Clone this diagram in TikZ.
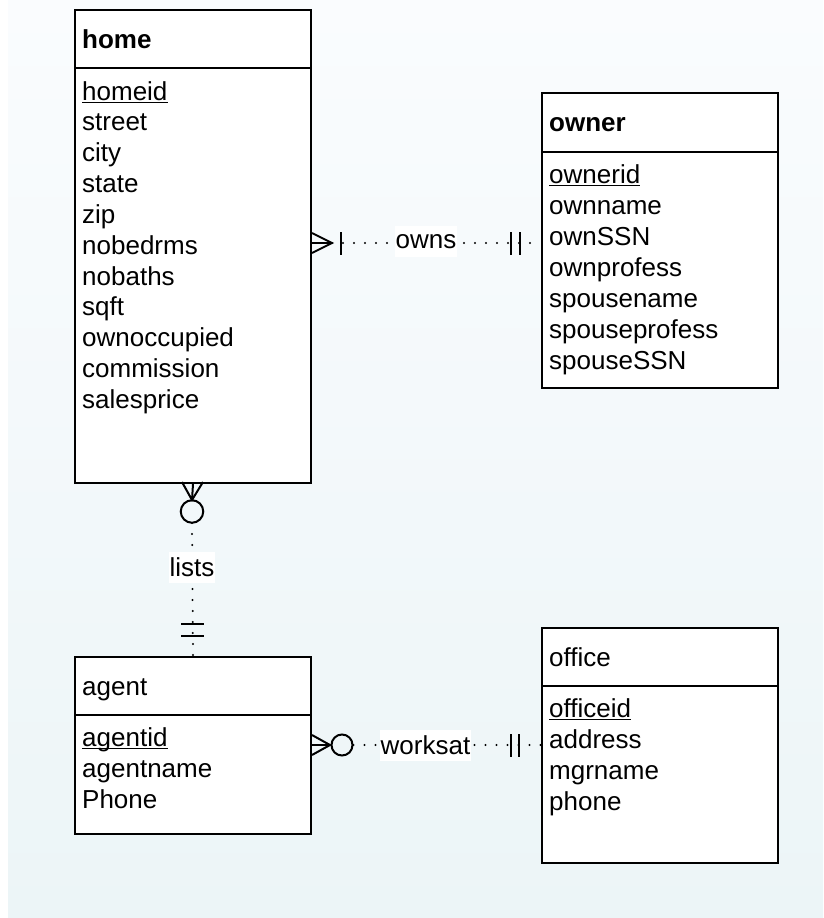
\documentclass[tikz,border=0pt]{standalone}
\usepackage{fontspec}
\setmainfont{Liberation Sans}
\usetikzlibrary{calc}
\definecolor{bgtop}{RGB}{250,252,254}
\definecolor{bgbot}{RGB}{236,245,247}
\begin{document}
\begin{tikzpicture}[x=1pt,y=-1pt,
  ent/.style={draw=black, line width=2pt, fill=white, inner sep=0pt, anchor=north west},
  sep/.style={draw=black, line width=2pt},
  hdr/.style={anchor=base west, inner sep=0pt, font=\fontsize{26}{31}\selectfont},
  attr/.style={anchor=base west, inner sep=0pt, font=\fontsize{26}{31}\selectfont},
  ulin/.style={line width=1.6pt},
  rel/.style={draw=black, line width=2pt},
  dotline/.style={draw=black, line width=2.2pt, line cap=round, dash pattern=on 0pt off 11pt},
  lbl/.style={fill=white, inner sep=1pt, minimum height=31pt, font=\fontsize{26}{31}\selectfont}
]
\useasboundingbox (0,0) rectangle (823,918);
\shade[top color=bgtop, bottom color=bgbot] (8,0) rectangle (823,918);

% ---------- home ----------
\node[ent, minimum width=236pt, minimum height=473pt] (home) at (74,9) {};
\draw[sep] (home.west |- 0,68) -- (home.east |- 0,68);
\node[hdr] (home-h) at (82,48) {\bfseries home};
\node[attr] (home-a0) at (82,100) {homeid};
\draw[ulin] ([yshift=-2.5pt]home-a0.base west) -- ([yshift=-2.5pt]home-a0.base east);
\foreach \t [count=\i] in {street,city,state,zip,nobedrms,nobaths,sqft,ownoccupied,commission,salesprice}
  \node[attr] (home-a\i) at (82,{100+30.85*\i}) {\t};

% ---------- owner ----------
\node[ent, minimum width=236pt, minimum height=295pt] (owner) at (541,92) {};
\draw[sep] (owner.west |- 0,152) -- (owner.east |- 0,152);
\node[hdr] (owner-h) at (549,131.5) {\bfseries owner};
\node[attr] (owner-a0) at (549,183) {ownerid};
\draw[ulin] ([yshift=-2.5pt]owner-a0.base west) -- ([yshift=-2.5pt]owner-a0.base east);
\foreach \t [count=\i] in {ownname,ownSSN,ownprofess,spousename,spouseprofess,spouseSSN}
  \node[attr] (owner-a\i) at (549,{183+31*\i}) {\t};

% ---------- agent ----------
\node[ent, minimum width=236pt, minimum height=177pt] (agent) at (74,656) {};
\draw[sep] (agent.west |- 0,715) -- (agent.east |- 0,715);
\node[hdr] (agent-h) at (82,695) {agent};
\node[attr] (agent-a0) at (82,746) {agentid};
\draw[ulin] ([yshift=-2.5pt]agent-a0.base west) -- ([yshift=-2.5pt]agent-a0.base east);
\foreach \t [count=\i] in {agentname,Phone}
  \node[attr] (agent-a\i) at (82,{746+31*\i}) {\t};

% ---------- office ----------
\node[ent, minimum width=236pt, minimum height=235pt] (office) at (541,627) {};
\draw[sep] (office.west |- 0,686) -- (office.east |- 0,686);
\node[hdr] (office-h) at (549,666) {office};
\node[attr] (office-a0) at (549,717) {officeid};
\draw[ulin] ([yshift=-2.5pt]office-a0.base west) -- ([yshift=-2.5pt]office-a0.base east);
\foreach \t [count=\i] in {address,mgrname,phone}
  \node[attr] (office-a\i) at (549,{717+31*\i}) {\t};

% ---------- owns ----------
\coordinate (owns-tip) at (332,243);
\draw[dotline] (owns-tip) -- (owner.west |- 0,243);
\draw[rel] (home.east |- 0,233) -- (owns-tip) -- (home.east |- 0,253);
\draw[rel] (home.east |- 0,243) -- (owns-tip);
\draw[rel] (341,232) -- (341,255);
\draw[rel] (511,232) -- (511,255);
\draw[rel] (520,232) -- (520,255);
\node[lbl] (owns) at (426,241.5) {owns};

% ---------- lists ----------
\coordinate (lists-tip) at (192,500);
\draw[dotline] (192,523) -- (agent.north);
\draw[rel] (182,482) -- (lists-tip) -- (203,482);
\draw[rel] (home.south) -- (lists-tip);
\node[draw=black, line width=2pt, circle, minimum size=22.5pt, inner sep=0pt, fill=none] (lists-c) at (192,511.5) {};
\draw[rel] (181,624) -- (204,624);
\draw[rel] (181,636) -- (204,636);
\node[lbl] (lists) at (192,567) {lists};

% ---------- worksat ----------
\coordinate (works-tip) at (330,745);
\node[draw=black, line width=2pt, circle, minimum size=21pt, inner sep=0pt] (works-c) at (342,745) {};
\draw[dotline] (works-c.east) -- (office.west |- 0,745);
\draw[rel] (agent.east |- 0,735) -- (works-tip) -- (agent.east |- 0,755);
\draw[rel] (agent.east |- 0,745) -- (works-tip);
\draw[rel] (511,734) -- (511,757);
\draw[rel] (519,734) -- (519,757);
\node[lbl] (worksat) at (425.5,745) {worksat};
\end{tikzpicture}
\end{document}
